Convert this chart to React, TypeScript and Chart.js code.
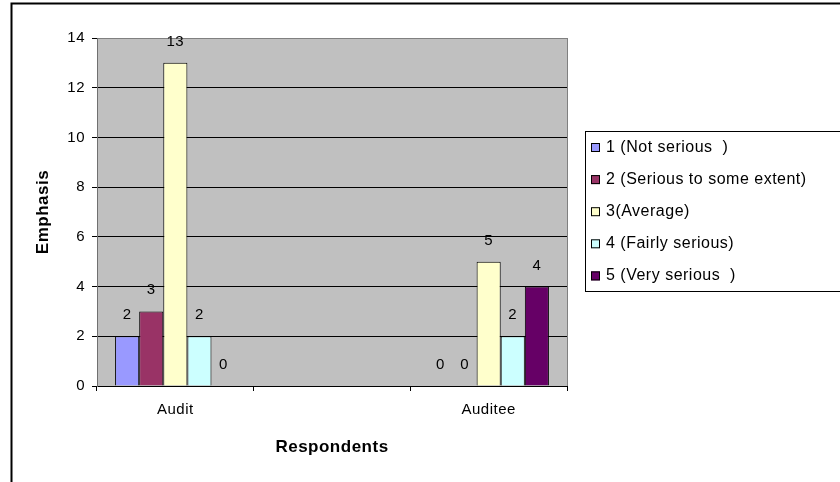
import { useEffect, useRef } from "react";
import { Chart, registerables } from "chart.js";

Chart.register(...registerables);

const FONT = "'Liberation Sans', Arial, Helvetica, sans-serif";
const SPACING = "0.5px";

// Categories (the middle slot is an empty category)
const categories = ["Audit", "", "Auditee"];

// Series names, one per rating
const seriesNames = [
  "1 (Not serious  )",
  "2 (Serious to some extent)",
  "3(Average)",
  "4 (Fairly serious)",
  "5 (Very serious  )",
];

// Counts per category
const notSerious = [2, null, 0];
const seriousSomeExtent = [3, null, 0];
const average = [13, null, 5];
const fairlySerious = [2, null, 2];
const verySerious = [0, null, 4];

const seriesColors = ["#9999FF", "#993366", "#FFFFCC", "#CCFFFF", "#660066"];

const yMin = 0;
const yMax = 14;
const yStep = 2;

const xTitle = "Respondents";
const yTitle = "Emphasis";

const spacingPlugin = {
  id: "letterSpacing",
  beforeUpdate(chart: any) {
    chart.ctx.letterSpacing = SPACING;
  },
  beforeDraw(chart: any) {
    chart.ctx.letterSpacing = SPACING;
  },
};

const backdropPlugin = {
  id: "backdrop",
  beforeDraw(chart: any) {
    const { ctx, chartArea: a } = chart;
    ctx.save();
    // outer frame
    ctx.strokeStyle = "#000";
    ctx.lineWidth = 2;
    ctx.strokeRect(11.5, 3.5, 2000, 2000);
    // plot area
    ctx.fillStyle = "#C0C0C0";
    ctx.fillRect(a.left, a.top, a.right - a.left, a.bottom - a.top);
    ctx.strokeStyle = "#808080";
    ctx.lineWidth = 1;
    ctx.strokeRect(a.left + 0.5, a.top + 0.5, a.right - a.left, a.bottom - a.top);
    ctx.restore();
  },
};

const valueLabelPlugin = {
  id: "valueLabels",
  afterDatasetsDraw(chart: any) {
    const { ctx } = chart;
    ctx.save();
    ctx.letterSpacing = SPACING;
    ctx.font = `15px ${FONT}`;
    ctx.fillStyle = "#000";
    ctx.textAlign = "center";
    ctx.textBaseline = "alphabetic";
    chart.data.datasets.forEach((ds: any, i: number) => {
      const meta = chart.getDatasetMeta(i);
      meta.data.forEach((bar: any, j: number) => {
        const v = ds.data[j];
        if (v === null || v === undefined) return;
        ctx.fillText(String(v), bar.x, bar.y - 17);
      });
    });
    ctx.restore();
  },
};

const legendPlugin = {
  id: "sideLegend",
  afterDraw(chart: any) {
    const { ctx } = chart;
    ctx.save();
    ctx.letterSpacing = SPACING;
    ctx.strokeStyle = "#000";
    ctx.lineWidth = 1;
    ctx.strokeRect(585.5, 131.5, 400, 160);
    ctx.font = `16px ${FONT}`;
    ctx.textAlign = "left";
    ctx.textBaseline = "alphabetic";
    chart.data.datasets.forEach((ds: any, i: number) => {
      const base = 152 + i * 32.1;
      ctx.fillStyle = ds.backgroundColor;
      ctx.fillRect(591, base - 9, 9, 9);
      ctx.strokeStyle = "#000";
      ctx.strokeRect(591.5, base - 8.5, 8, 8);
      ctx.fillStyle = "#000";
      ctx.fillText(ds.label, 606, base);
    });
    ctx.restore();
  },
};

export default function App() {
  const canvasRef = useRef<HTMLCanvasElement | null>(null);

  useEffect(() => {
    const canvas = canvasRef.current;
    if (!canvas) return;
    const seriesValues = [notSerious, seriousSomeExtent, average, fairlySerious, verySerious];
    const chart = new Chart(canvas, {
      type: "bar",
      data: {
        labels: categories,
        datasets: seriesValues.map((values, i) => ({
          label: seriesNames[i],
          data: values,
          backgroundColor: seriesColors[i],
          borderColor: "#000",
          borderWidth: 1,
          borderSkipped: "bottom",
          categoryPercentage: 1 / 1.3,
          barPercentage: 1,
        })),
      },
      options: {
        responsive: false,
        animation: false,
        devicePixelRatio: 1,
        layout: { padding: { left: 0, top: 38, right: 273, bottom: 0 } },
        plugins: {
          legend: { display: false },
          tooltip: { enabled: false },
        },
        scales: {
          x: {
            type: "category",
            offset: true,
            grid: {
              display: true,
              offset: true,
              drawOnChartArea: false,
              drawTicks: true,
              tickLength: 5,
              tickColor: "#000",
              color: "#000",
            },
            border: { display: true, color: "#000", width: 1 },
            ticks: {
              color: "#000",
              font: { family: FONT, size: 15 },
              padding: 10,
              maxRotation: 0,
              autoSkip: false,
            },
            title: {
              display: true,
              text: xTitle,
              color: "#000",
              font: { family: FONT, size: 17, weight: "bold" },
              padding: { top: 0, bottom: 24 },
            },
            afterFit(scale: any) {
              scale.height = 96;
              scale.paddingLeft = 0;
              scale.paddingRight = 0;
            },
          },
          y: {
            min: yMin,
            max: yMax,
            ticks: {
              stepSize: yStep,
              color: "#000",
              font: { family: FONT, size: 15 },
              padding: 7,
            },
            grid: {
              color: (c: any) => (c.tick && c.tick.value === yMax ? "#808080" : "#000"),
              tickColor: "#000",
              tickLength: 5,
              drawTicks: true,
            },
            border: { display: true, color: "#707070", width: 1 },
            title: {
              display: true,
              text: yTitle,
              color: "#000",
              font: { family: FONT, size: 17, weight: "bold" },
              padding: { top: 33, bottom: 0 },
            },
            afterFit(scale: any) {
              scale.width = 97;
              scale.paddingTop = 0;
              scale.paddingBottom = 0;
            },
          },
        },
      },
      plugins: [spacingPlugin, backdropPlugin, valueLabelPlugin, legendPlugin],
    } as any);
    return () => chart.destroy();
  }, []);

  return (
    <div style={{ position: "absolute", left: 0, top: 0, width: 840, height: 482, background: "#fff" }}>
      <canvas ref={canvasRef} width={840} height={482} style={{ display: "block" }} />
    </div>
  );
}
